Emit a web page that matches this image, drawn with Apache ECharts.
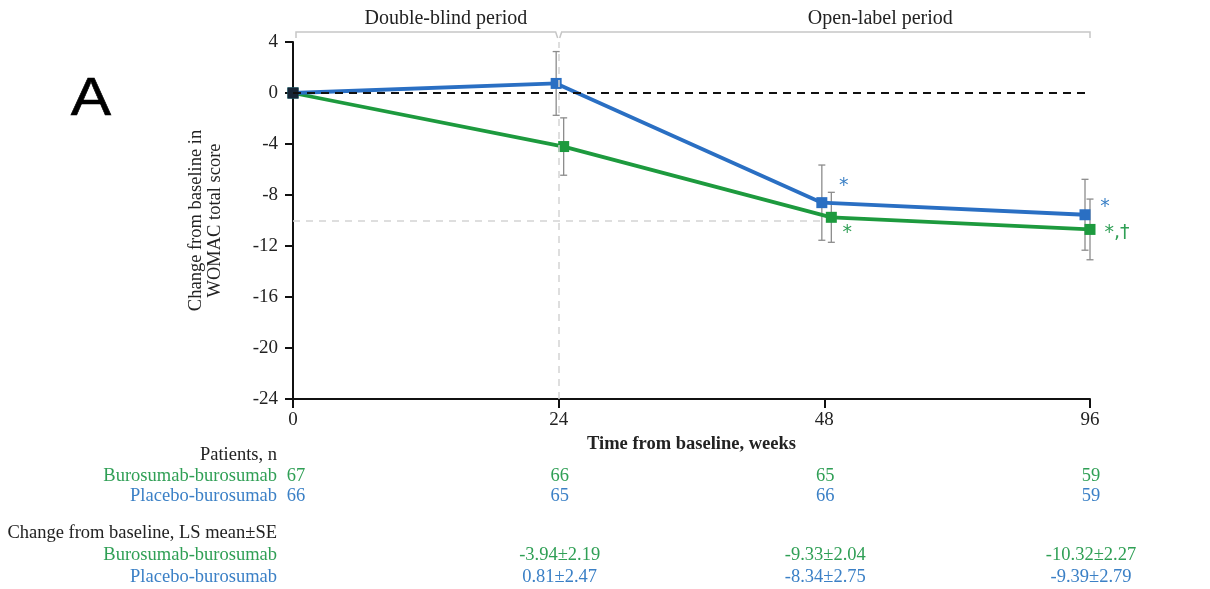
<!DOCTYPE html>
<html>
<head>
<meta charset="utf-8">
<script src="https://cdn.jsdelivr.net/npm/echarts@6/dist/echarts.min.js"></script>
<style>
  html, body { margin: 0; padding: 0; background: #fff; }
  #chart { width: 1210px; height: 589px; }
</style>
</head>
<body>
<div id="chart"></div>
<script>
// ---------- data ----------
const xLabels = ['0', '24', '48', '96'];
const burosumabMean = [0, -4.2, -9.75, -10.7];
const placeboMean = [0, 0.75, -8.6, -9.55];
const burosumabErr = [null, 2.25, 1.96, 2.38];
const placeboErr = [null, 2.5, 2.95, 2.78];
const burosumabNotes = ['', '', '*', '*,†'];
const placeboNotes = ['', '', '*', '*'];
const nBurosumab = ['67', '66', '65', '59'];
const nPlacebo = ['66', '65', '66', '59'];
const lsBurosumab = ['', '-3.94±2.19', '-9.33±2.04', '-10.32±2.27'];
const lsPlacebo = ['', '0.81±2.47', '-8.34±2.75', '-9.39±2.79'];
const yMin = -24, yMax = 4, yStep = 4;
const refLineValue = -10;     // light dashed horizontal reference
const refVerticalIndex = 1;   // week 24 boundary
const refLineEndIndex = 2;

// ---------- style ----------
const BLUE = '#2a6fc3', GREEN = '#1d9a3e';
const BLUE_TXT = '#3b80c6', GREEN_TXT = '#2f9f55';
const SERIF = '"Liberation Serif", "Times New Roman", serif';
const PX_PER_STEP = 265.7;
const dodgeBluePx = [0, -2.5, -2.5, -5];
const dodgeGreenPx = [0, 5, 7, 0];
const noteOffsetsBlue = [[0,0],[0,0],[22,-17],[20,-8]];
const noteOffsetsGreen = [[0,0],[0,0],[16,16],[27,4]];

function seriesData(means, dodge, notes, offs, color) {
  return means.map((v, i) => ({
    value: [i + dodge[i] / PX_PER_STEP, v],
    label: notes[i] ? {
      show: true, formatter: notes[i], position: 'inside',
      offset: offs[i], color: color, fontSize: 19,
      fontFamily: '"DejaVu Sans", sans-serif'
    } : { show: false }
  }));
}
function errData(means, errs, dodge) {
  const out = [];
  means.forEach((v, i) => {
    if (errs[i] != null) out.push([i + dodge[i] / PX_PER_STEP, v - errs[i], v + errs[i]]);
  });
  return out;
}
function errRender(params, api) {
  const x = api.value(0);
  const lo = api.coord([x, api.value(1)]);
  const hi = api.coord([x, api.value(2)]);
  const cw = 3.5;
  const st = { stroke: '#8c8c8c', lineWidth: 1.3 };
  return {
    type: 'group', children: [
      { type: 'line', shape: { x1: lo[0], y1: lo[1], x2: hi[0], y2: hi[1] }, style: st },
      { type: 'line', shape: { x1: lo[0]-cw, y1: lo[1], x2: lo[0]+cw, y2: lo[1] }, style: st },
      { type: 'line', shape: { x1: hi[0]-cw, y1: hi[1], x2: hi[0]+cw, y2: hi[1] }, style: st }
    ]
  };
}

const chart = echarts.init(document.getElementById('chart'), null, { renderer: 'canvas' });

const option = {
  animation: false,
  backgroundColor: '#fff',
  grid: { left: 293, right: 120, top: 42, bottom: 190, containLabel: false },
  xAxis: {
    type: 'value', min: 0, max: xLabels.length - 1, interval: 1,
    name: 'Time from baseline, weeks', nameLocation: 'middle', nameGap: 31,
    nameTextStyle: { fontFamily: SERIF, fontSize: 18.5, fontWeight: 'bold', color: '#222' },
    axisLine: { onZero: false, lineStyle: { color: '#111', width: 2 } },
    axisTick: { length: 9, lineStyle: { color: '#111', width: 2 } },
    axisLabel: { formatter: v => xLabels[v] || '', fontFamily: SERIF, fontSize: 19, color: '#222', margin: 12 },
    splitLine: { show: false }
  },
  yAxis: {
    type: 'value', min: yMin, max: yMax, interval: yStep,
    name: 'Change from baseline in\nWOMAC total score', nameLocation: 'middle', nameGap: 68,
    nameTextStyle: { fontFamily: SERIF, fontSize: 18.5, color: '#222', lineHeight: 19 },
    axisLine: { show: true, onZero: false, lineStyle: { color: '#111', width: 2 } },
    axisTick: { show: true, length: 8, lineStyle: { color: '#111', width: 2 } },
    axisLabel: { fontFamily: SERIF, fontSize: 19, color: '#222', margin: 15 },
    splitLine: { show: false }
  },
  series: [
    {
      type: 'line', name: 'ref', data: [], silent: true, z: 1,
      markLine: {
        silent: true, symbol: 'none', label: { show: false },
        data: [
          { yAxis: 0, lineStyle: { color: '#111', width: 2, type: [8, 6] } },
          { xAxis: refVerticalIndex, lineStyle: { color: '#d4d4d4', width: 1.5, type: [7, 6] } },
          [{ coord: [0, refLineValue], lineStyle: { color: '#d4d4d4', width: 1.5, type: [7, 6] } },
           { coord: [refLineEndIndex, refLineValue] }]
        ]
      }
    },
    {
      type: 'custom', name: 'errB', renderItem: errRender, z: 2, clip: false,
      data: errData(burosumabMean, burosumabErr, dodgeGreenPx)
    },
    {
      type: 'custom', name: 'errP', renderItem: errRender, z: 2, clip: false,
      data: errData(placeboMean, placeboErr, dodgeBluePx)
    },
    {
      type: 'line', name: 'Placebo-burosumab', z: 4, clip: false,
      data: seriesData(placeboMean, dodgeBluePx, placeboNotes, noteOffsetsBlue, BLUE_TXT),
      symbol: 'rect', symbolSize: 11, showAllSymbol: true,
      lineStyle: { color: BLUE, width: 3.8 }, itemStyle: { color: BLUE }
    },
    {
      type: 'line', name: 'Burosumab-burosumab', z: 3, clip: false,
      data: seriesData(burosumabMean, dodgeGreenPx, burosumabNotes, noteOffsetsGreen, GREEN_TXT),
      symbol: 'rect', symbolSize: 11, showAllSymbol: true,
      lineStyle: { color: GREEN, width: 3.8 }, itemStyle: { color: GREEN }
    },
    {
      type: 'scatter', name: 'baseline', z: 6, clip: false,
      data: [[0, burosumabMean[0]]], symbol: 'rect', symbolSize: 11,
      itemStyle: { color: '#111' }
    }
  ]
};
chart.setOption(option);

// ---------- annotations (brackets + table) ----------
const px = i => chart.convertToPixel({ xAxisIndex: 0 }, i);
const gfx = [];
const bY = 32, tickH = 6, brColor = '#c6c6c6';
const x0 = px(0), x1 = px(refVerticalIndex), x3 = px(xLabels.length - 1);
gfx.push({ type: 'polyline', shape: { points: [[x0 + 3, bY + tickH], [x0 + 3, bY], [x1 - 3, bY], [x1 - 1, bY + tickH]] },
  style: { stroke: brColor, lineWidth: 1.5, fill: null } });
gfx.push({ type: 'polyline', shape: { points: [[x1 + 1, bY + tickH], [x1 + 3, bY], [x3, bY], [x3, bY + tickH]] },
  style: { stroke: brColor, lineWidth: 1.5, fill: null } });
gfx.push({ type: 'text', x: (x0 + x1) / 2 + 20, y: 19, style: { text: 'Double-blind period', font: '20px ' + SERIF, fill: '#222', textAlign: 'center', textVerticalAlign: 'middle' } });
gfx.push({ type: 'text', x: (x1 + x3) / 2 + 56, y: 19, style: { text: 'Open-label period', font: '20px ' + SERIF, fill: '#222', textAlign: 'center', textVerticalAlign: 'middle' } });

// panel letter
gfx.push({ type: 'text', x: 91, y: 100, scaleX: 1.12, originX: 0, originY: 0, style: { text: 'A', font: '54px "Liberation Sans", Arial, sans-serif', fill: '#000', stroke: '#000', lineWidth: 0.6, textAlign: 'center', textVerticalAlign: 'middle' } });

const labelX = 277;
const TFONT = '18.5px ' + SERIF;
function rowText(txt, y, color) {
  gfx.push({ type: 'text', x: labelX, y: y, style: { text: txt, font: TFONT, fill: color, textAlign: 'right', textVerticalAlign: 'middle' } });
}
function colText(vals, y, color, shift) {
  vals.forEach((t, i) => {
    if (!t) return;
    gfx.push({ type: 'text', x: px(i) + (i === 0 ? shift : 1), y: y, style: { text: t, font: TFONT, fill: color, textAlign: 'center', textVerticalAlign: 'middle' } });
  });
}
rowText('Patients, n', 455, '#222');
rowText('Burosumab-burosumab', 476, GREEN_TXT);
rowText('Placebo-burosumab', 496, BLUE_TXT);
colText(nBurosumab, 476, GREEN_TXT, 3);
colText(nPlacebo, 496, BLUE_TXT, 3);
rowText('Change from baseline, LS mean±SE', 533, '#222');
rowText('Burosumab-burosumab', 555, GREEN_TXT);
rowText('Placebo-burosumab', 577, BLUE_TXT);
colText(lsBurosumab, 555, GREEN_TXT, 0);
colText(lsPlacebo, 577, BLUE_TXT, 0);

chart.setOption({ graphic: gfx });
</script>
</body>
</html>
